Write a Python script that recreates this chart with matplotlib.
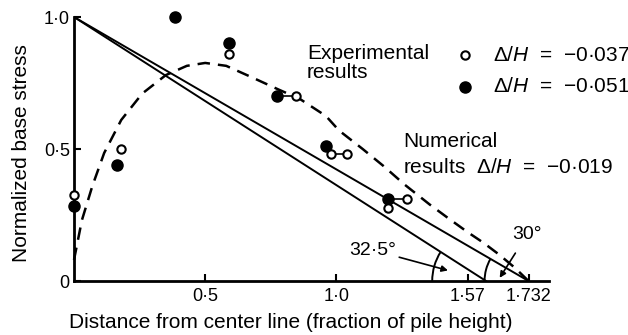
import matplotlib
matplotlib.use("Agg")
import matplotlib.pyplot as plt
from matplotlib.patches import Arc

plt.rcParams['font.family'] = ['Liberation Sans', 'DejaVu Sans']
plt.rcParams['mathtext.fontset'] = 'custom'
plt.rcParams['mathtext.rm'] = 'Liberation Sans'
plt.rcParams['mathtext.it'] = 'Liberation Sans:italic'

# ----------------- data -----------------
# numerical results, dashed curve (delta/H = -0.019)
num_x = [0.0, 0.03, 0.07, 0.115, 0.18, 0.26, 0.35, 0.43, 0.50, 0.58, 0.67,
         0.78, 0.86, 0.96, 1.01, 1.10, 1.18, 1.26, 1.355, 1.43, 1.50, 1.56,
         1.62, 1.68, 1.732]
num_y = [0.08, 0.23, 0.36, 0.485, 0.61, 0.71, 0.78, 0.815, 0.826, 0.815, 0.775,
         0.725, 0.69, 0.625, 0.57, 0.50, 0.435, 0.365, 0.29, 0.235, 0.185, 0.145,
         0.10, 0.05, 0.0]

# experimental, delta/H = -0.037 (open)
open_x = [0.0, 0.18, 0.59, 0.845, 0.98, 1.04, 1.195, 1.27]
open_y = [0.325, 0.50, 0.86, 0.70, 0.48, 0.48, 0.276, 0.31]

# experimental, delta/H = -0.051 (filled)
fill_x = [0.0, 0.165, 0.385, 0.59, 0.775, 0.96, 1.195]
fill_y = [0.285, 0.44, 1.0, 0.90, 0.70, 0.51, 0.31]

# straight lines for the two repose angles
apex = 1.0
toe_30 = 1.732
toe_325 = 1.57

xtick_pos = [0.5, 1.0, 1.5, 1.732]
xtick_lab = ['0·5', '1·0', '1·57', '1·732']
ytick_pos = [0.0, 0.5, 1.0]
ytick_lab = ['0', '0·5', '1·0']

# ----------------- figure -----------------
fig = plt.figure(figsize=(6.28, 3.35), dpi=100)
ax = fig.add_axes([74 / 628, 54 / 335, 475 / 628, 264 / 335])
ax.set_xlim(0, 1.81)
ax.set_ylim(0, 1.0)

for s in ['top', 'right']:
    ax.spines[s].set_visible(False)
for s in ['left', 'bottom']:
    ax.spines[s].set_linewidth(2.0)

ax.plot([0, toe_30], [apex, 0], color='black', lw=1.4)
ax.plot([0, toe_325], [apex, 0], color='black', lw=1.4)
ax.plot(num_x, num_y, color='black', lw=1.8, dashes=(5, 3.2), clip_on=False)

# little connectors between neighbouring measured points
ax.plot([0.775, 0.845], [0.70, 0.70], color='black', lw=1.2)
ax.plot([0.98, 1.04], [0.48, 0.48], color='black', lw=1.2)
ax.plot([1.195, 1.27], [0.31, 0.31], color='black', lw=1.2)

ax.plot(fill_x, fill_y, 'o', color='black', ms=8, clip_on=False, zorder=4)
ax.plot(open_x, open_y, 'o', mfc='white', mec='black', mew=1.5, ms=6,
        clip_on=False, zorder=5)

# angle arcs
ax.add_patch(Arc((toe_325, 0), 0.41, 0.41, theta1=180 - 32.5, theta2=180,
                 color='black', lw=1.4))
ax.add_patch(Arc((toe_30, 0), 0.335, 0.335, theta1=150, theta2=180,
                 color='black', lw=1.4))
ax.annotate('32·5°', xy=(1.425, 0.04), xytext=(1.05, 0.117), fontsize=14,
            ha='left', va='center',
            arrowprops=dict(arrowstyle='-|>', color='black', lw=1.2,
                            shrinkA=0, shrinkB=0, mutation_scale=9))
ax.annotate('30°', xy=(1.622, 0.012), xytext=(1.67, 0.175), fontsize=14,
            ha='left', va='center',
            arrowprops=dict(arrowstyle='-|>', color='black', lw=1.2,
                            shrinkA=6, shrinkB=0, mutation_scale=9))

# legend-like labels
ax.text(0.888, 0.896, 'Experimental\nresults', fontsize=15, ha='left',
        va='top', linespacing=0.95)
ax.plot([1.49], [0.856], 'o', mfc='white', mec='black', mew=1.5, ms=6,
        clip_on=False)
ax.plot([1.49], [0.735], 'o', color='black', ms=8, clip_on=False)
ax.text(1.595, 0.856, r'Δ/$H$  =  −0·037', fontsize=15, ha='left', va='center')
ax.text(1.595, 0.735, r'Δ/$H$  =  −0·051', fontsize=15, ha='left', va='center')
ax.text(1.255, 0.53, 'Numerical', fontsize=15, ha='left', va='center')
ax.text(1.255, 0.43, r'results  Δ/$H$  =  −0·019', fontsize=15, ha='left',
        va='center')

ax.set_xticks(xtick_pos)
ax.set_xticklabels(xtick_lab)
ax.set_yticks(ytick_pos)
ax.set_yticklabels(ytick_lab)
ax.tick_params(direction='in', length=5, width=1.5, labelsize=13, pad=5)
ax.tick_params(axis='y', pad=3)

fig.text(291 / 628, (335 - 328) / 335, 'Distance from center line (fraction of pile height)',
         fontsize=15, ha='center', va='baseline')
fig.text(22 / 628, 1 - 153 / 335, 'Normalized base stress', fontsize=15,
         rotation=90, ha='center', va='center')

fig.savefig('out.png', dpi=100)
